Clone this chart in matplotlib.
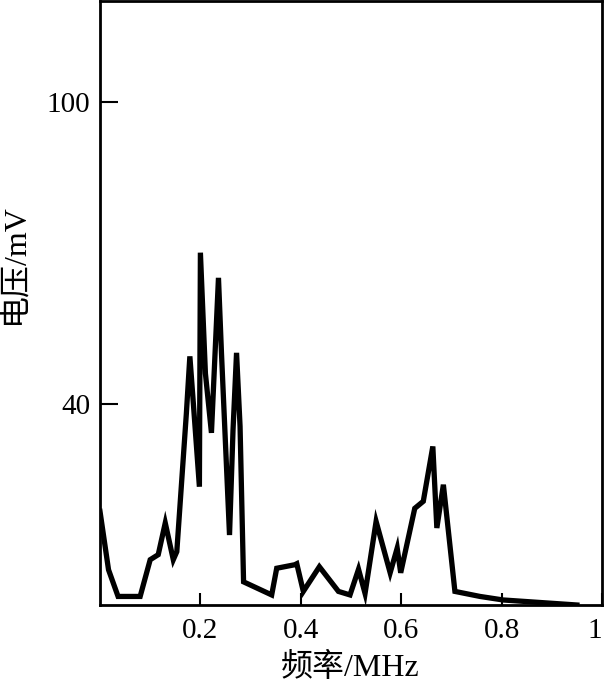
import matplotlib
matplotlib.use("Agg")
import matplotlib.pyplot as plt

freq = [0.0, 0.017, 0.036, 0.080, 0.100, 0.116, 0.130, 0.146, 0.153, 0.172, 0.179,
        0.186, 0.198, 0.200, 0.210, 0.222, 0.236, 0.242, 0.258, 0.265, 0.272,
        0.279, 0.286, 0.342, 0.352, 0.388, 0.392, 0.405, 0.437, 0.475, 0.498,
        0.515, 0.528, 0.550, 0.578, 0.592, 0.599, 0.627, 0.644, 0.663, 0.671,
        0.684, 0.707, 0.757, 0.803, 0.950]
voltage = [18.6, 7.0, 1.7, 1.7, 9.0, 10.0, 16.3, 9.0, 10.6, 38.0, 49.4,
           40.0, 23.5, 70.0, 46.0, 34.2, 65.0, 50.0, 13.9, 34.8, 50.1,
           35.5, 4.6, 2.0, 7.3, 8.0, 8.2, 2.7, 7.6, 2.7, 2.0,
           7.1, 2.3, 16.6, 6.4, 11.3, 6.4, 19.2, 20.6, 31.5, 15.3,
           23.9, 2.7, 1.7, 1.0, 0.0]

xticks = [0.2, 0.4, 0.6, 0.8, 1.0]
xticklabels = ["0.2", "0.4", "0.6", "0.8", "1"]
yticks = [40, 100]
yticklabels = ["40", "100"]

fam = ["Liberation Serif", "Noto Sans CJK SC"]

fig = plt.figure(figsize=(6.07, 6.86), dpi=100)
ax = fig.add_axes([100/607, 1 - 605/686, 502/607, 604/686])
ax.plot(freq, voltage, color="black", lw=3.8, solid_joinstyle="miter")
ax.set_xlim(0, 1)
ax.set_ylim(0, 120)
ax.set_xticks(xticks)
ax.set_xticklabels(xticklabels, family=fam, fontsize=21)
ax.get_xticklabels()[-1].set_horizontalalignment("right")
ax.set_yticks(yticks)
ax.set_yticklabels(yticklabels, family=fam, fontsize=21)
ax.tick_params(axis="x", direction="in", length=9, width=1.5, pad=9)
ax.tick_params(axis="y", direction="in", length=13, width=1.5, pad=7)
for s in ax.spines.values():
    s.set_linewidth(2)
fig.text(350/607, 1 - 668/686, "频率/MHz", family=fam, fontsize=23,
         ha="center", va="center")
fig.text(16/607, 1 - 264/686, "电压/mV", family=fam, fontsize=23,
         ha="center", va="center", rotation=90)
fig.savefig("out.png", dpi=100)
